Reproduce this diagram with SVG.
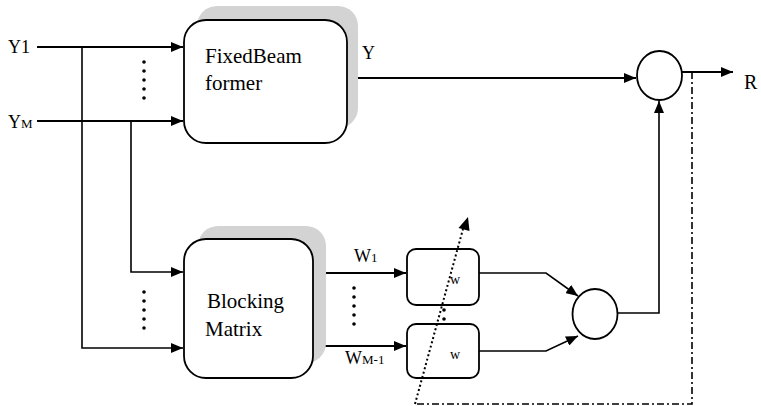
<svg xmlns="http://www.w3.org/2000/svg" width="761" height="406" viewBox="0 0 761 406">
<defs>
<marker id="ah" viewBox="0 0 12 10" refX="12" refY="5" markerWidth="12" markerHeight="10" markerUnits="userSpaceOnUse" orient="auto">
<path d="M0,0 L12,5 L0,10 Z" fill="#000"/>
</marker>
<style>
.ln{stroke:#000;stroke-width:2;fill:none}
.thin{stroke:#000;stroke-width:1.6;fill:none}
.box{fill:#fff;stroke:#000;stroke-width:1.8}
.sh{fill:#d3d3d3}
.dot{fill:#000}
</style>
</defs>
<rect width="761" height="406" fill="#fff"/>

<g id="connectors">
<line class="ln" x1="37" y1="47" x2="183" y2="47" marker-end="url(#ah)"/>
<line class="ln" x1="37" y1="121" x2="183" y2="121" marker-end="url(#ah)"/>
<polyline class="thin" points="82,47 82,348 183,348" marker-end="url(#ah)"/>
<polyline class="thin" points="131,121 131,272 183,272" marker-end="url(#ah)"/>
<line class="ln" x1="347" y1="78" x2="636" y2="78" marker-end="url(#ah)"/>
<line class="ln" x1="682" y1="72" x2="733" y2="72" marker-end="url(#ah)"/>
<line class="ln" x1="313" y1="273" x2="406" y2="273" marker-end="url(#ah)"/>
<line class="ln" x1="313" y1="346" x2="406" y2="346" marker-end="url(#ah)"/>
<polyline class="thin" points="479,273 546,273 578,296" marker-end="url(#ah)"/>
<polyline class="thin" points="479,351 546,351 578,336" marker-end="url(#ah)"/>
<polyline class="thin" points="617,313 659,313 659,101" marker-end="url(#ah)"/>
<polyline class="thin" points="692,72 692,404 415,404" stroke-dasharray="7,3,2,3"/>
</g>

<g id="fixed-beamformer">
<rect class="sh" x="197" y="6" width="161" height="122" rx="20"/>
<rect class="box" x="184" y="20" width="163" height="123" rx="22"/>
<text x="205" y="63" font-family="Liberation Serif, Times New Roman, serif" font-size="21">FixedBeam</text>
<text x="205" y="90" font-family="Liberation Serif, Times New Roman, serif" font-size="21">former</text>
</g>

<g id="blocking-matrix">
<rect class="sh" x="198" y="226" width="128" height="137" rx="20"/>
<rect class="box" x="184" y="239" width="129" height="139" rx="22"/>
<text x="207" y="308" font-family="Liberation Serif, Times New Roman, serif" font-size="21">Blocking</text>
<text x="205" y="336" font-family="Liberation Serif, Times New Roman, serif" font-size="21">Matrix</text>
</g>

<g id="filter-w1">
<rect class="box" x="407" y="249" width="72" height="56" rx="9"/>
<text x="450" y="284" font-family="Liberation Serif, Times New Roman, serif" font-size="14">w</text>
</g>
<g id="filter-wm1">
<rect class="box" x="407" y="324" width="72" height="54" rx="9"/>
<text x="450" y="359" font-family="Liberation Serif, Times New Roman, serif" font-size="14">w</text>
</g>

<g id="sum-output">
<ellipse class="box" cx="659.5" cy="75.5" rx="22.5" ry="24.5"/>
</g>
<g id="sum-adaptive">
<ellipse class="box" cx="595" cy="314" rx="22.5" ry="25"/>
</g>

<g id="adaptation-arrow">
<line x1="415" y1="404" x2="463" y2="229" stroke="#000" stroke-width="2" stroke-dasharray="2,2.5" fill="none"/>
<path d="M468,217 L469.5,231 L458.5,228 Z" fill="#000"/>
</g>

<g id="labels" font-family="Liberation Serif, Times New Roman, serif" font-size="18" fill="#000">
<text x="8" y="53">Y1</text>
<text x="8" y="128">Y<tspan font-size="13">M</tspan></text>
<text x="362" y="59">Y</text>
<text x="744" y="89" font-size="20">R</text>
<text x="354" y="262">W<tspan font-size="13">1</tspan></text>
<text x="345" y="364">W<tspan font-size="13">M-1</tspan></text>
</g>

<g id="ellipsis-dots">
<circle class="dot" cx="144" cy="62" r="1.8"/>
<circle class="dot" cx="144" cy="71" r="1.8"/>
<circle class="dot" cx="144" cy="80" r="1.8"/>
<circle class="dot" cx="144" cy="89" r="1.8"/>
<circle class="dot" cx="144" cy="98" r="1.8"/>
<circle class="dot" cx="144" cy="292" r="1.8"/>
<circle class="dot" cx="144" cy="301" r="1.8"/>
<circle class="dot" cx="144" cy="310" r="1.8"/>
<circle class="dot" cx="144" cy="319" r="1.8"/>
<circle class="dot" cx="144" cy="328" r="1.8"/>
<circle class="dot" cx="354" cy="288" r="1.8"/>
<circle class="dot" cx="354" cy="297" r="1.8"/>
<circle class="dot" cx="354" cy="306" r="1.8"/>
<circle class="dot" cx="354" cy="315" r="1.8"/>
<circle class="dot" cx="354" cy="324" r="1.8"/>
<circle class="dot" cx="444" cy="310" r="1.8"/>
<circle class="dot" cx="444" cy="319" r="1.8"/>
</g>
</svg>
